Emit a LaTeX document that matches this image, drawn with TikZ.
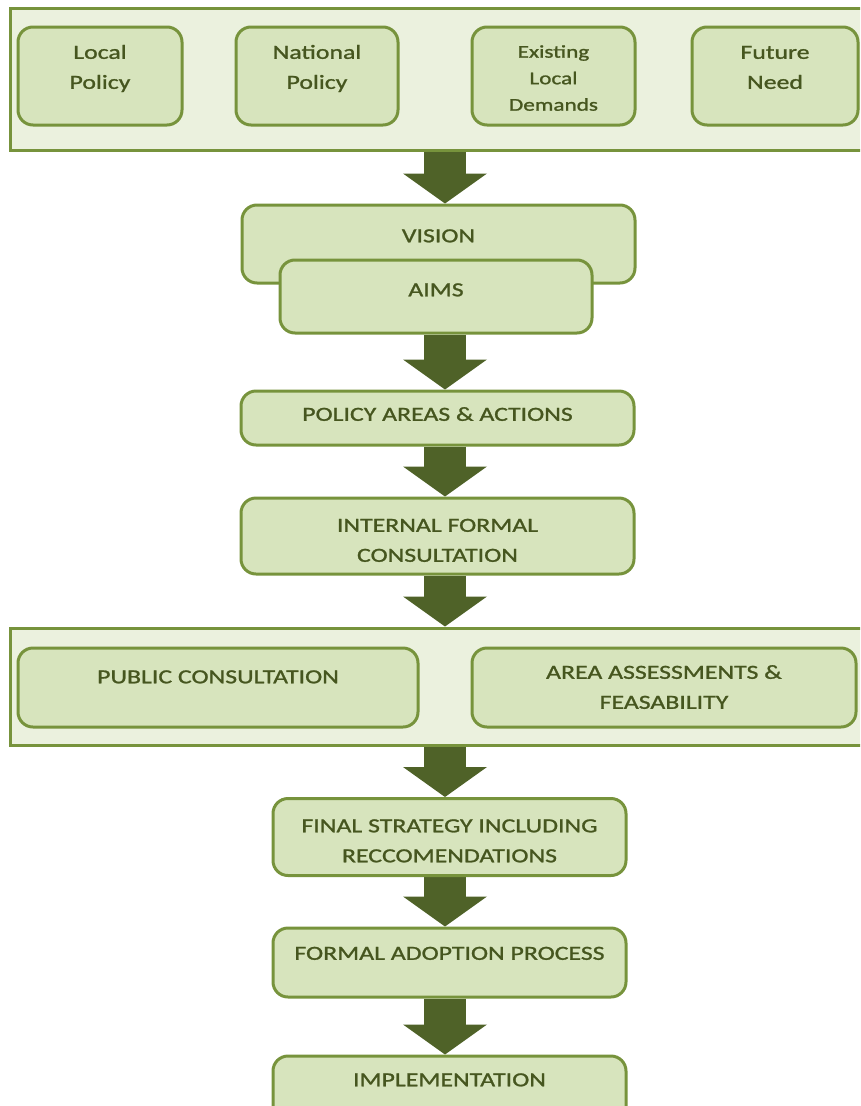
\documentclass[tikz,border=0pt]{standalone}
\usepackage{fontspec}
\setmainfont{Carlito}[FakeStretch=1.29,FakeBold=1.2]
\usetikzlibrary{arrows.meta,backgrounds}
\definecolor{arrowgreen}{HTML}{4F6228}
\definecolor{boxfill}{HTML}{D7E4BD}
\definecolor{boxline}{HTML}{77933C}
\definecolor{outerfill}{HTML}{EBF1DE}
\definecolor{textgreen}{HTML}{46561F}
\begin{document}
\begin{tikzpicture}[x=1pt,y=-1pt]\tikzstyle{frame}=[draw=boxline,line width=3pt,fill=outerfill,minimum width=860pt]
\tikzstyle{box}=[draw=boxline,line width=3pt,fill=boxfill,rounded corners=15pt,align=center,text=textgreen,font=\fontsize{20}{30}\selectfont,text height=12.6pt,text depth=0pt]
\tikzstyle{flow}=[draw=arrowgreen,line width=42pt,-{Triangle[width=84pt,length=30pt,line width=0pt]}]
\useasboundingbox (0,0) rectangle (860,1106);
\clip (0,0) rectangle (860,1106);
\node[frame,minimum height=142pt] at (440,79) (inputs) {};
\node[box,minimum width=164pt,minimum height=98pt,text height=42.6pt,text depth=17pt] at (100,76) (lp) {Local\\Policy};
\node[box,minimum width=162pt,minimum height=98pt,text height=42.6pt,text depth=17pt] at (317,76) (np) {National\\Policy};
\node[box,minimum width=163pt,minimum height=98pt,font=\fontsize{18}{26.5}\selectfont,text height=69.4pt] at (553.5,76) (eld) {Existing\\Local\\Demands};
\node[box,minimum width=166pt,minimum height=98pt,text height=42.6pt,text depth=17pt] at (775,76) (fn) {Future\\Need};
\node[box,minimum width=393pt,minimum height=78pt,text depth=16pt] at (438.5,244) (vision) {VISION};
\node[box,minimum width=312pt,minimum height=73pt,text depth=13pt] at (436,296.5) (aims) {AIMS};
\node[box,minimum width=393pt,minimum height=54pt,text depth=7pt] at (437.5,418) (areas) {POLICY AREAS \& ACTIONS};
\node[box,minimum width=393pt,minimum height=76pt,text height=51.6pt] at (437.5,536) (internal) {INTERNAL FORMAL\\CONSULTATION};
\node[frame,minimum height=117pt] at (440,686.5) (consult) {};
\node[box,minimum width=400pt,minimum height=79pt,text depth=21pt] at (218,687.5) (public) {PUBLIC CONSULTATION};
\node[box,minimum width=384pt,minimum height=79pt,text height=42.6pt] at (664,687.5) (assess) {AREA ASSESSMENTS \&\\FEASABILITY};
\node[box,minimum width=353pt,minimum height=77pt,text height=50.6pt] at (449.5,837) (final) {FINAL STRATEGY INCLUDING\\RECCOMENDATIONS};
\node[box,minimum width=353pt,minimum height=69pt,text depth=18pt] at (449.5,962.5) (adopt) {FORMAL ADOPTION PROCESS};
\node[box,minimum width=353pt,minimum height=72pt,text depth=24pt] at (449.5,1092) (impl) {IMPLEMENTATION};
\coordinate (ax) at (445,0);
\begin{scope}[on background layer]
\draw[flow] (inputs.south -| ax) -- (vision.north -| ax);
\draw[flow] (aims.south -| ax) -- (areas.north -| ax);
\draw[flow] (areas.south -| ax) -- (internal.north -| ax);
\draw[flow] (internal.south -| ax) -- (consult.north -| ax);
\draw[flow] (consult.south -| ax) -- (final.north -| ax);
\draw[flow] (final.south -| ax) -- (adopt.north -| ax);
\draw[flow] (adopt.south -| ax) -- (impl.north -| ax);
\end{scope}
\end{tikzpicture}
\end{document}
